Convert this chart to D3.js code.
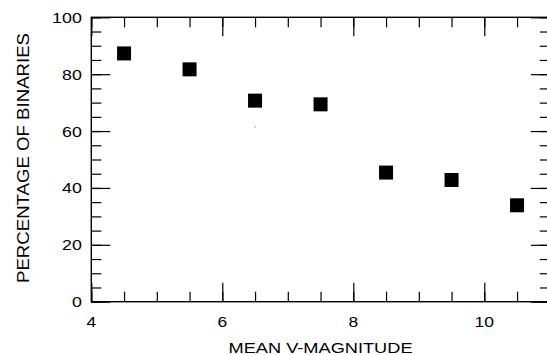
<!DOCTYPE html>
<html>
<head>
<meta charset="utf-8">
<script src="https://cdn.jsdelivr.net/npm/d3@7"></script>
<style>
  body { margin: 0; background: #fff; }
  text { font-family: "Liberation Sans", Arial, sans-serif; fill: #000; }
</style>
</head>
<body>
<svg id="chart" width="547" height="355"></svg>
<script>
// values
var magnitudes = [4.5, 5.5, 6.5, 7.5, 8.5, 9.5, 10.5];
var binaryPct = [87.3, 81.7, 70.7, 69.4, 45.4, 42.8, 33.9];
var strayDot = [[6.5, 61.5]];   // small speck in the original scan

var xMajor = [4, 6, 8, 10];
var xMinor = d3.range(4, 11.01, 0.5);
var yMajor = [0, 20, 40, 60, 80, 100];
var yMinor = d3.range(0, 100.01, 5);

var svg = d3.select('#chart');

// plot box (window.top is reserved, so prefixed names)
var plotL = 91.3, plotR = 549.8, plotT = 17.3, plotB = 301.7;

var x = d3.scaleLinear().domain([4, 11]).range([plotL, plotR]);
var y = d3.scaleLinear().domain([0, 100]).range([plotB, plotT]);

// inward ticks on all four sides
function tickAxis(axis, pos, values, size) {
    var g = svg.append('g')
        .attr('transform', pos)
        .call(axis.tickValues(values).tickSize(size).tickFormat(''));
    g.select('.domain').remove();
    g.selectAll('line').attr('stroke', '#000').attr('stroke-width', 1.2);
    return g;
}

tickAxis(d3.axisBottom(x), 'translate(0,' + plotB + ')', xMinor, -10);
tickAxis(d3.axisBottom(x), 'translate(0,' + plotB + ')', xMajor, -19);
tickAxis(d3.axisTop(x), 'translate(0,' + plotT + ')', xMinor, -10);
tickAxis(d3.axisTop(x), 'translate(0,' + plotT + ')', xMajor, -19);
tickAxis(d3.axisLeft(y), 'translate(' + plotL + ',0)', yMinor, -10);
tickAxis(d3.axisLeft(y), 'translate(' + plotL + ',0)', yMajor, -19);
tickAxis(d3.axisRight(y), 'translate(' + plotR + ',0)', yMinor, -10);
tickAxis(d3.axisRight(y), 'translate(' + plotR + ',0)', yMajor, -19);

// frame
svg.append('rect')
    .attr('x', plotL).attr('y', plotT)
    .attr('width', plotR - plotL).attr('height', plotB - plotT)
    .attr('fill', 'none').attr('stroke', '#000').attr('stroke-width', 1.4);

// tick labels (the original font is rather wide)
svg.selectAll('.xlab')
    .data(xMajor)
    .enter().append('text')
    .attr('class', 'xlab')
    .attr('x', d => x(d))
    .attr('y', plotB + 25.5)
    .attr('text-anchor', 'middle')
    .attr('font-size', 14.5)
    .attr('textLength', d => String(d).length * 9.7)
    .attr('lengthAdjust', 'spacingAndGlyphs')
    .text(d => d);

svg.selectAll('.ylab')
    .data(yMajor)
    .enter().append('text')
    .attr('class', 'ylab')
    .attr('x', plotL - 9.5)
    .attr('y', d => y(d) + 5.5)
    .attr('text-anchor', 'end')
    .attr('font-size', 14.5)
    .attr('textLength', d => String(d).length * 9.9)
    .attr('lengthAdjust', 'spacingAndGlyphs')
    .text(d => d);

// axis titles
svg.append('text')
    .attr('x', (plotL + plotR) / 2)
    .attr('y', 353.3)
    .attr('text-anchor', 'middle')
    .attr('font-size', 15)
    .attr('textLength', 184)
    .attr('lengthAdjust', 'spacingAndGlyphs')
    .text('MEAN V-MAGNITUDE');

svg.append('text')
    .attr('transform', 'translate(28.5,' + 158 + ') rotate(-90)')
    .attr('text-anchor', 'middle')
    .attr('font-size', 16)
    .attr('textLength', 250)
    .attr('lengthAdjust', 'spacingAndGlyphs')
    .text('PERCENTAGE OF BINARIES');

// data squares
var s = 14;
svg.selectAll('.pt')
    .data(magnitudes)
    .enter().append('rect')
    .attr('class', 'pt')
    .attr('x', d => x(d) - s / 2)
    .attr('y', (d, i) => y(binaryPct[i]) - s / 2)
    .attr('width', s)
    .attr('height', s)
    .attr('fill', '#000');

svg.selectAll('.speck')
    .data(strayDot)
    .enter().append('rect')
    .attr('class', 'speck')
    .attr('x', d => x(d[0]) - 0.6)
    .attr('y', d => y(d[1]) - 0.6)
    .attr('width', 1.2)
    .attr('height', 1.2)
    .attr('fill', '#888');
</script>
</body>
</html>
